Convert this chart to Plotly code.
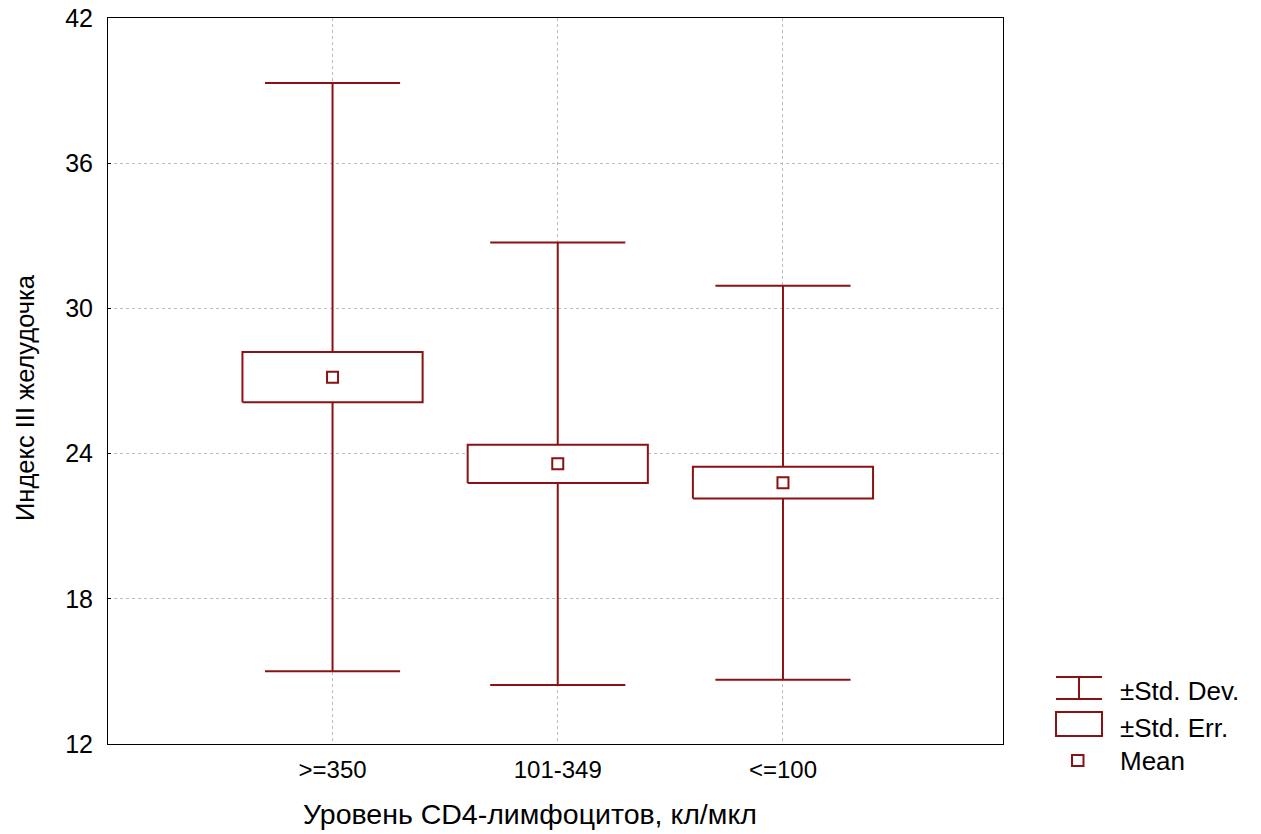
import plotly.graph_objects as go

# ---- data ----
categories = [">=350", "101-349", "<=100"]
means = [27.16, 23.58, 22.80]
std_dev = [12.15, 9.14, 8.14]
std_err = [1.035, 0.79, 0.655]
y_ticks = [12, 18, 24, 30, 36, 42]

x_title = "Уровень CD4-лимфоцитов, кл/мкл"
y_title = "Индекс III желудочка"
legend_labels = ["±Std. Dev.", "±Std. Err.", "Mean"]

# ---- style ----
RED = "#8B1212"
FONT = "Liberation Sans, Arial, sans-serif"
OFF = 8  # page body margin
W, H = 1261 - OFF, 834 - OFF
L, R, T, B = 108, 1003, 18, 744  # plot area in screenshot pixels
BOX_HALF = 0.4
CAP_HALF = 0.3

fig = go.Figure()
xs = list(range(len(categories)))

for i, (m, sd, se) in enumerate(zip(means, std_dev, std_err)):
    hi, lo = m + sd, m - sd
    bt, bb = m + se, m - se
    fig.add_trace(go.Scatter(x=[i, i, None, i, i], y=[hi, bt, None, bb, lo],
                             mode="lines", line=dict(color=RED, width=2),
                             showlegend=False, hoverinfo="skip"))
    fig.add_trace(go.Scatter(x=[i - CAP_HALF, i + CAP_HALF, None, i - CAP_HALF, i + CAP_HALF],
                             y=[hi, hi, None, lo, lo],
                             mode="lines", line=dict(color=RED, width=2),
                             showlegend=False, hoverinfo="skip"))
    fig.add_trace(go.Scatter(x=[i - BOX_HALF, i + BOX_HALF, i + BOX_HALF, i - BOX_HALF, i - BOX_HALF],
                             y=[bb, bb, bt, bt, bb],
                             mode="lines", fill="toself", fillcolor="white",
                             line=dict(color=RED, width=2),
                             showlegend=False, hoverinfo="skip"))

fig.add_trace(go.Scatter(x=xs, y=means, mode="markers",
                         marker=dict(symbol="square-open", size=11, color=RED,
                                     line=dict(width=2, color=RED)),
                         showlegend=False))


def px(xp):
    return (xp - L) / (R - L)


def py(yp):
    return (B - yp) / (B - T)


shapes = []
line = dict(color=RED, width=2)
shapes.append(dict(type="line", xref="paper", yref="paper", x0=px(1056), x1=px(1102), y0=py(677), y1=py(677), line=line))
shapes.append(dict(type="line", xref="paper", yref="paper", x0=px(1056), x1=px(1102), y0=py(699), y1=py(699), line=line))
shapes.append(dict(type="line", xref="paper", yref="paper", x0=px(1079), x1=px(1079), y0=py(677), y1=py(699), line=line))
shapes.append(dict(type="rect", xref="paper", yref="paper", x0=px(1056), x1=px(1102), y0=py(736), y1=py(712), line=line))
shapes.append(dict(type="rect", xref="paper", yref="paper", x0=px(1072), x1=px(1083.5), y0=py(766), y1=py(755), line=line))

annotations = []
for lab, yp in zip(legend_labels, [691, 728, 761]):
    annotations.append(dict(text=lab, xref="paper", yref="paper", x=px(1118), y=py(yp),
                            xanchor="left", yanchor="middle", showarrow=False,
                            font=dict(family=FONT, size=26, color="black")))
annotations.append(dict(text=x_title, xref="paper", yref="paper", x=px(530), y=py(814),
                        xanchor="center", yanchor="middle", showarrow=False,
                        font=dict(family=FONT, size=28.5, color="black")))
annotations.append(dict(text=y_title, xref="paper", yref="paper", x=px(25), y=py(398),
                        xanchor="center", yanchor="middle", showarrow=False, textangle=-90,
                        font=dict(family=FONT, size=25.5, color="black")))

fig.update_layout(
    width=W, height=H,
    margin=dict(l=L - OFF, r=W - (R - OFF), t=T - OFF, b=H - (B - OFF), autoexpand=False),
    paper_bgcolor="white", plot_bgcolor="white",
    font=dict(family=FONT, size=24, color="black"),
    shapes=shapes, annotations=annotations,
    showlegend=False,
)
fig.update_xaxes(range=[-0.997, 2.977], tickvals=xs, ticktext=categories,
                 showgrid=True, gridcolor="#bcbcbc", griddash="dot", gridwidth=1,
                 showline=True, linecolor="black", linewidth=1, mirror=True,
                 ticks="", zeroline=False, ticklabelstandoff=4, automargin=False,
                 ticklabeloverflow="allow", tickfont=dict(size=24))
fig.update_yaxes(range=[12, 42], tickvals=y_ticks,
                 showgrid=True, gridcolor="#bcbcbc", griddash="dot", gridwidth=1,
                 showline=True, linecolor="black", linewidth=1, mirror=True,
                 ticks="inside", ticklen=3, tickcolor="black", zeroline=False,
                 ticklabelstandoff=9, ticklabeloverflow="allow", automargin=False,
                 tickfont=dict(size=25))

fig.write_html("out.html")
